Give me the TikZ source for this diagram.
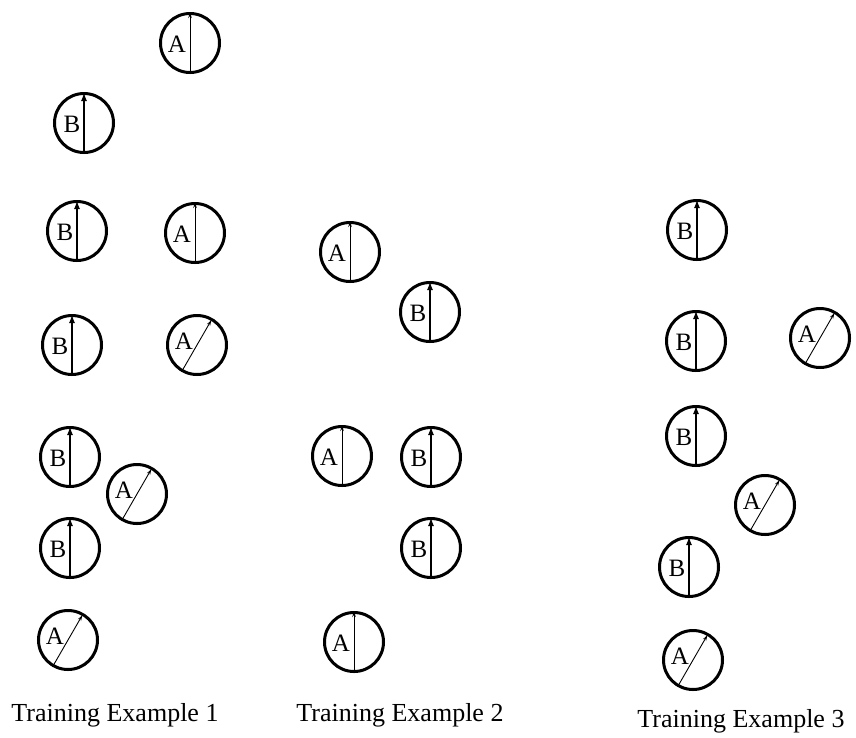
\documentclass[tikz,border=0pt]{standalone}
\usepackage{fontspec}
\setmainfont{Liberation Serif}
\usetikzlibrary{arrows.meta}
\tikzset{
  ring/.style={circle, draw, line width=3pt, minimum size=59pt, inner sep=0pt},
  lett/.style={font=\fontsize{25}{27}\selectfont, inner sep=0pt},
  thinarr/.style={line width=0.9pt, -{Stealth[length=6pt,width=3.5pt,open]}},
  thickarr/.style={line width=2.2pt, -{Latex[length=9pt,width=6pt]}},
  caption/.style={font=\fontsize{26}{30}\selectfont, inner sep=0pt},
}
% A with vertical thin arrow
\newcommand\ringAv[2]{%
  \node[ring, label={[lett, xshift=-13pt, yshift=-1pt]center:A}] (#1) at (#2) {};
  \draw[thinarr] (#1.south) -- (#1.north);}
% A with diagonal thin arrow
\newcommand\ringAd[2]{%
  \node[ring, label={[lett, xshift=-13pt, yshift=4pt]center:A}] (#1) at (#2) {};
  \draw[thinarr, shorten >=2pt] (#1.240) -- (#1.60);}
% B with thick vertical arrow
\newcommand\ringB[2]{%
  \node[ring, label={[lett, xshift=-12pt, yshift=-1pt]center:B}] (#1) at (#2) {};
  \draw[thickarr] (#1.south) -- (#1.north);}
\begin{document}
\begin{tikzpicture}[x=1pt, y=-1pt]
\useasboundingbox (0,0) rectangle (856,737);
% Training example 1
\ringAv{a1}{190,43}
\ringB{b1}{84,123}
\ringB{b2}{77,231}
\ringAv{a2}{195,233}
\ringB{b3}{72,345}
\ringAd{a3}{197,345}
\ringB{b4}{70,457}
\ringAd{a4}{137,494}
\ringB{b5}{70,548}
\ringAd{a5}{68,640}
% Training example 2
\ringAv{c1}{350,252}
\ringB{d1}{430,312}
\ringAv{c2}{342,456}
\ringB{d2}{431,457}
\ringB{d3}{431,548}
\ringAv{c3}{354,642}
% Training example 3
\ringB{e1}{697,230}
\ringB{e2}{696,341}
\ringAd{f1}{820,338}
\ringB{e3}{696,436}
\ringAd{f2}{765,505}
\ringB{e4}{689,567}
\ringAd{f3}{693,660}
% captions
\node[caption] (t1) at (115,715) {Training Example 1};
\node[caption] (t2) at (400,715) {Training Example 2};
\node[caption] (t3) at (741,721) {Training Example 3};
\end{tikzpicture}
\end{document}
